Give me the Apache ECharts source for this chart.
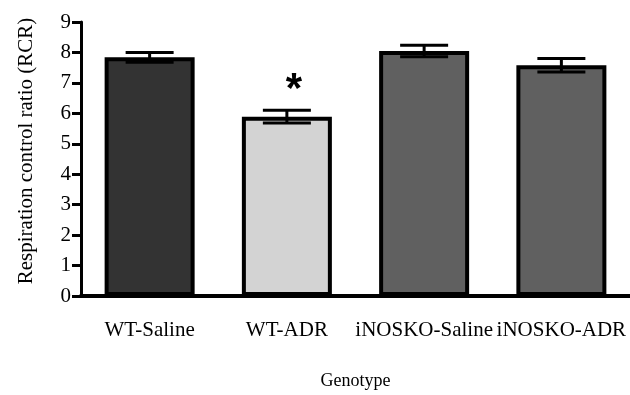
<!DOCTYPE html>
<html>
<head>
<meta charset="utf-8">
<script src="https://cdn.jsdelivr.net/npm/echarts@6/dist/echarts.min.js"></script>
<style>html,body{margin:0;padding:0;background:#fff;}#c{width:630px;height:395px;}</style>
</head>
<body>
<div id="c"></div>
<script>
const categories = ['WT-Saline', 'WT-ADR', 'iNOSKO-Saline', 'iNOSKO-ADR'];
const means = [7.84, 5.89, 8.05, 7.58];
const errors = [0.16, 0.21, 0.19, 0.22];
const significance = ['', '*', '', ''];
const yTicks = [0, 1, 2, 3, 4, 5, 6, 7, 8, 9];

const barColors = ['#333333', '#d3d3d3', '#606060', '#606060'];
const FONT = '"Liberation Serif", "Times New Roman", serif';

const chart = echarts.init(document.getElementById('c'), null, {renderer: 'canvas'});

chart.setOption({
  animation: false,
  backgroundColor: '#ffffff',
  grid: {left: 81, right: -2, top: 22, bottom: 94},
  xAxis: {
    type: 'category',
    data: categories,
    name: 'Genotype',
    nameLocation: 'middle',
    nameGap: 76,
    nameTextStyle: {fontFamily: FONT, fontSize: 18, color: '#000'},
    axisLine: {lineStyle: {color: '#000', width: 4}},
    axisTick: {alignWithLabel: true, length: 10, lineStyle: {color: '#000', width: 3}},
    axisLabel: {fontFamily: FONT, fontSize: 21, color: '#000', margin: 24, interval: 0}
  },
  yAxis: {
    type: 'value',
    min: yTicks[0],
    max: yTicks[yTicks.length - 1],
    interval: 1,
    name: 'Respiration control ratio (RCR)',
    nameLocation: 'middle',
    nameGap: 44,
    nameRotate: 90,
    nameTextStyle: {fontFamily: FONT, fontSize: 21, color: '#000', padding: [0, 0, 0, 16]},
    axisLine: {show: true, lineStyle: {color: '#000', width: 3}},
    axisTick: {show: true, length: 9, lineStyle: {color: '#000', width: 3}},
    axisLabel: {fontFamily: FONT, fontSize: 21, color: '#000', margin: 10},
    splitLine: {show: false}
  },
  series: [
    {
      type: 'bar',
      barWidth: 90,
      data: means.map((v, i) => ({
        value: v,
        itemStyle: {color: barColors[i], borderColor: '#000', borderWidth: 4}
      })),
      z: 2
    },
    {
      type: 'custom',
      z: 5,
      data: means.map((m, i) => [i, m, errors[i]]),
      renderItem: function (params, api) {
        const i = api.value(0);
        const m = api.value(1);
        const e = api.value(2);
        const sig = significance[params.dataIndex];
        const top = api.coord([i, m + e]);
        const bot = api.coord([i, m - e]);
        const half = 24;
        const style = {stroke: '#000', lineWidth: 3};
        const children = [
          {type: 'line', shape: {x1: top[0], y1: top[1], x2: bot[0], y2: bot[1]}, style: style},
          {type: 'line', shape: {x1: top[0] - half, y1: top[1], x2: top[0] + half, y2: top[1]}, style: style},
          {type: 'line', shape: {x1: bot[0] - half, y1: bot[1], x2: bot[0] + half, y2: bot[1]}, style: style}
        ];
        if (sig) {
          children.push({
            type: 'text',
            style: {
              text: sig, x: top[0] + 7, y: top[1] - 20,
              align: 'center', verticalAlign: 'middle',
              fontFamily: '"Liberation Sans", Arial, sans-serif',
              fontWeight: 'bold', fontSize: 42, fill: '#000'
            }
          });
        }
        return {type: 'group', children: children};
      }
    }
  ]
});
</script>
</body>
</html>
